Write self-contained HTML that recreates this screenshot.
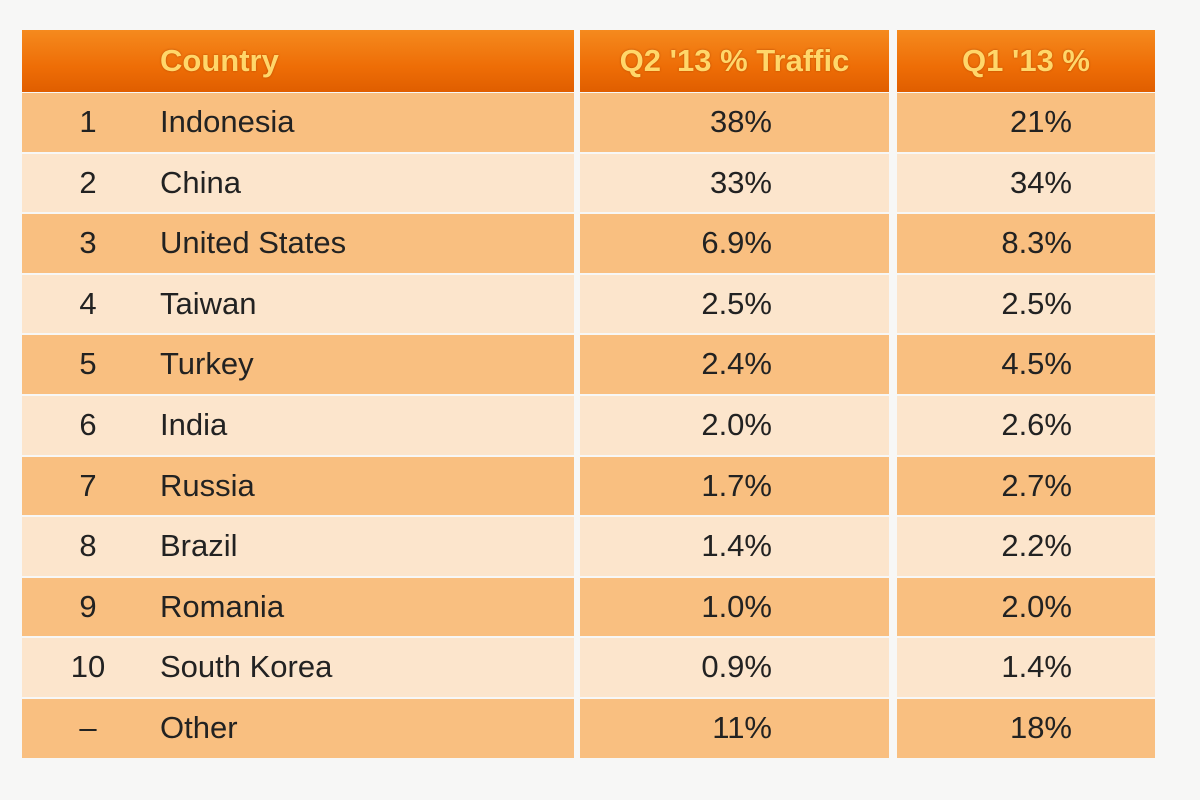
<!DOCTYPE html>
<html><head><meta charset="utf-8"><style>
html,body{margin:0;padding:0;width:1200px;height:800px;background:#f7f7f6;overflow:hidden;font-family:"Liberation Sans",sans-serif;}
#tbl{position:absolute;left:0;top:0;width:1200px;height:800px;}
.cell{position:absolute;box-sizing:border-box;}
.hdr{background:linear-gradient(#f58a1e,#ee6d06 60%,#e05e00);color:#ffd76a;font-weight:bold;font-size:31px;line-height:62px;text-shadow:0 0 2px #b84a00;}
.dark{background:#f9bf80;}
.light{background:#fce5cc;}
.txt{position:absolute;font-size:31px;color:#222;line-height:60px;}
</style></head><body>
<div id="tbl"></div>
<script>
const ranks=["1","2","3","4","5","6","7","8","9","10","–"];
const countries=["Indonesia","China","United States","Taiwan","Turkey","India","Russia","Brazil","Romania","South Korea","Other"];
const q2=["38%","33%","6.9%","2.5%","2.4%","2.0%","1.7%","1.4%","1.0%","0.9%","11%"];
const q1=["21%","34%","8.3%","2.5%","4.5%","2.6%","2.7%","2.2%","2.0%","1.4%","18%"];
const headers=["Country","Q2 '13 % Traffic","Q1 '13 %"];
const T=document.getElementById('tbl');
const cols=[[22,574],[580,889],[897,1155]];
function mk(cls,x,y,w,h){const d=document.createElement('div');d.className='cell '+cls;d.style.left=x+'px';d.style.top=y+'px';d.style.width=w+'px';d.style.height=h+'px';T.appendChild(d);return d;}
for(let c=0;c<3;c++){
  const d=mk('hdr',cols[c][0],30,cols[c][1]-cols[c][0],62);
  
  
  d.textContent=headers[c];
  if(c==0){d.style.paddingLeft='138px';}else{d.style.textAlign='center';}
}
const top0=92,pitch=60.6;
for(let i=0;i<countries.length;i++){
  const y=Math.round(top0+i*pitch),h=Math.round(top0+(i+1)*pitch)-y-2;
  const cls=i%2==0?'dark':'light';
  for(let c=0;c<3;c++){
    const d=mk(cls,cols[c][0],y+1,cols[c][1]-cols[c][0],h);
    
    
  }
  const r=document.createElement('div');r.className='txt';r.style.left='58px';r.style.width='60px';r.style.textAlign='center';r.style.top=(y)+'px';r.textContent=ranks[i];
  
  
  T.appendChild(r);
  const n=document.createElement('div');n.className='txt';n.style.left='160px';n.style.top=y+'px';n.textContent=countries[i];
  
  
  T.appendChild(n);
  const a=document.createElement('div');a.className='txt';a.style.right=(1200-772)+'px';a.style.top=y+'px';a.textContent=q2[i];
  
  
  T.appendChild(a);
  const b=document.createElement('div');b.className='txt';b.style.right=(1200-1072)+'px';b.style.top=y+'px';b.textContent=q1[i];
  
  
  T.appendChild(b);
}
</script>
</body></html>
